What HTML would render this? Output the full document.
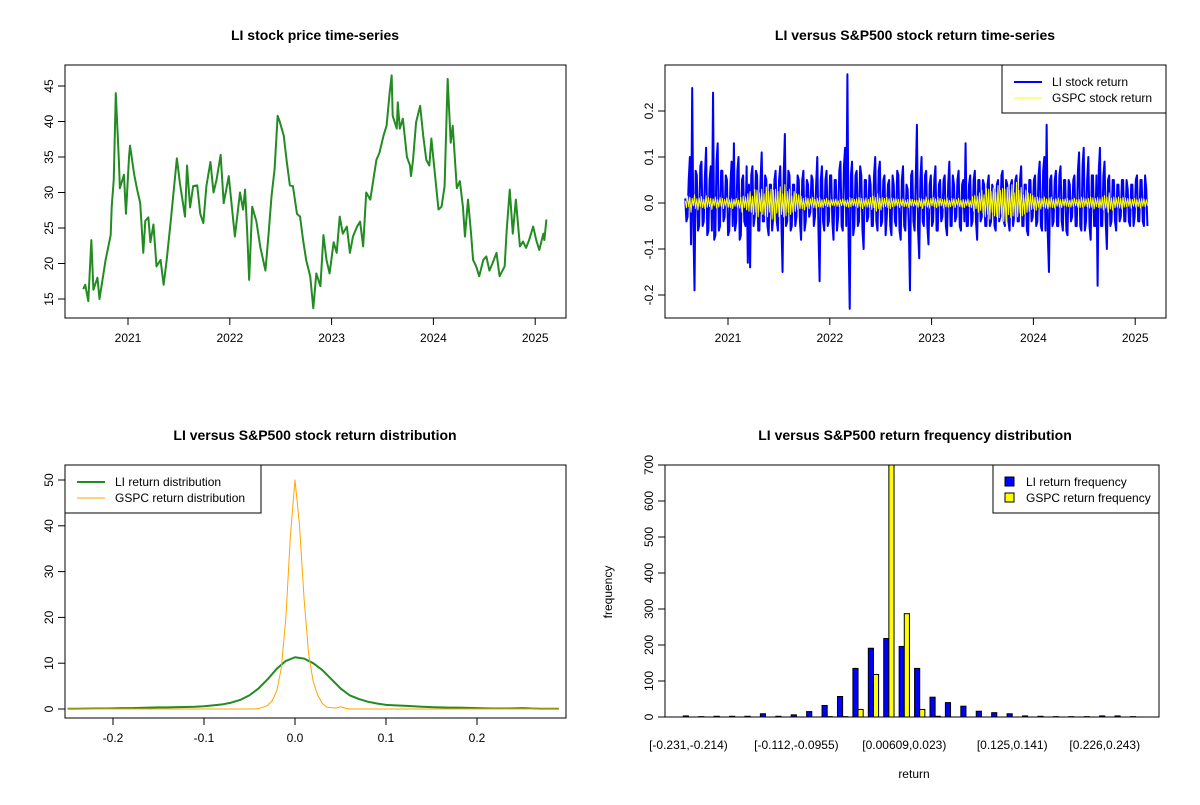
<!DOCTYPE html>
<html><head><meta charset="utf-8"><style>
body{margin:0;background:#fff}
svg text{font-family:"Liberation Sans",Arial,sans-serif;fill:#000}
.t{font-size:14px;font-weight:bold}
.k{font-size:12px}
</style></head><body>
<svg id="s" width="1200" height="800" xmlns="http://www.w3.org/2000/svg">
<rect width="1200" height="800" fill="#fff"/>
<text class="t" x="315" y="40" text-anchor="middle">LI stock price time-series</text>
<text class="t" x="915" y="40" text-anchor="middle">LI versus S&amp;P500 stock return time-series</text>
<text class="t" x="315" y="440" text-anchor="middle">LI versus S&amp;P500 stock return distribution</text>
<text class="t" x="915" y="440" text-anchor="middle">LI versus S&amp;P500 return frequency distribution</text>
<text class="k" x="612" y="592" text-anchor="middle" transform="rotate(-90 612 592)">frequency</text>
<text class="k" x="914" y="778" text-anchor="middle">return</text>
<g id="g"></g>
</svg>
<script>
const priceYears=[2020.56,2020.58,2020.61,2020.64,2020.66,2020.70,2020.72,2020.78,2020.83,2020.84,2020.86,2020.88,2020.91,2020.92,2020.96,2020.98,2021.01,2021.02,2021.06,2021.09,2021.12,2021.15,2021.17,2021.20,2021.22,2021.25,2021.28,2021.32,2021.35,2021.38,2021.42,2021.45,2021.48,2021.51,2021.56,2021.58,2021.61,2021.64,2021.68,2021.71,2021.74,2021.77,2021.81,2021.84,2021.87,2021.91,2021.94,2021.99,2022.02,2022.05,2022.10,2022.13,2022.15,2022.17,2022.19,2022.22,2022.26,2022.30,2022.35,2022.38,2022.41,2022.44,2022.47,2022.49,2022.53,2022.56,2022.59,2022.62,2022.66,2022.69,2022.72,2022.75,2022.79,2022.82,2022.85,2022.89,2022.92,2022.95,2022.98,2023.02,2023.05,2023.08,2023.11,2023.15,2023.18,2023.21,2023.25,2023.28,2023.31,2023.34,2023.38,2023.41,2023.44,2023.47,2023.51,2023.54,2023.57,2023.59,2023.60,2023.64,2023.65,2023.67,2023.70,2023.74,2023.77,2023.78,2023.80,2023.83,2023.87,2023.90,2023.93,2023.96,2023.98,2024.01,2024.05,2024.08,2024.11,2024.14,2024.17,2024.19,2024.23,2024.26,2024.29,2024.31,2024.34,2024.37,2024.39,2024.42,2024.45,2024.49,2024.52,2024.55,2024.58,2024.62,2024.65,2024.70,2024.72,2024.75,2024.78,2024.81,2024.85,2024.88,2024.91,2024.94,2024.98,2025.01,2025.04,2025.08,2025.09,2025.11];
const prices=[16.4,17.0,14.7,23.3,16.3,18.0,15.0,20.5,24.0,28.0,31.8,44.0,34.6,30.6,32.5,27.0,35.0,36.6,32.6,30.4,28.5,21.5,26.0,26.5,23.0,25.5,19.6,20.5,17.0,20.5,26.0,30.4,34.8,31.3,26.6,33.8,27.9,30.9,31.0,27.0,25.7,30.9,34.3,30.0,31.8,35.3,28.5,32.3,28.0,23.8,30.0,27.6,30.4,24.7,17.7,28.0,26.0,22.3,19.0,24.0,29.5,33.3,40.8,40.0,38.0,34.3,31.0,30.9,27.0,26.6,23.3,20.5,18.2,13.7,18.6,16.8,24.0,20.5,18.6,23.0,21.5,26.6,24.2,25.2,21.5,23.8,25.2,25.9,22.4,30.0,29.0,31.8,34.6,35.6,38.0,39.4,44.0,46.5,40.8,39.0,42.7,39.0,40.4,35.0,33.8,32.3,34.6,39.9,42.2,38.0,34.6,33.8,37.6,33.3,27.6,28.0,30.9,46.0,37.0,39.4,30.6,31.6,28.0,23.8,29.0,24.2,20.5,19.6,18.2,20.5,21.0,19.0,20.0,21.5,18.2,19.6,24.7,30.4,24.2,29.0,22.4,23.1,22.2,23.3,25.2,23.3,21.9,24.2,23.3,26.2];
const liReturns=[0.01,-0.04,-0.03,0.05,0.10,-0.09,0.25,-0.05,-0.19,0.07,0.06,-0.06,-0.05,0.08,0.09,-0.05,-0.04,0.06,0.12,-0.07,-0.06,0.05,0.08,-0.06,0.24,-0.08,-0.07,0.09,0.13,-0.06,-0.05,0.07,0.07,-0.04,-0.03,0.06,0.05,-0.07,-0.06,0.04,
0.09,-0.05,0.13,-0.06,-0.04,0.07,0.10,-0.08,-0.07,0.05,0.06,-0.04,-0.05,0.08,-0.13,0.04,-0.14,0.06,0.08,-0.05,-0.03,0.07,0.06,-0.06,-0.06,0.05,0.11,-0.04,-0.04,0.06,0.05,-0.05,-0.07,0.04,0.04,-0.06,-0.03,0.05,0.07,-0.04,
-0.06,0.05,0.08,-0.04,-0.15,0.06,0.15,-0.05,-0.04,0.07,0.06,-0.06,-0.05,0.04,0.04,-0.05,-0.03,0.06,0.05,-0.04,-0.08,0.05,0.07,-0.06,-0.04,0.05,0.04,-0.03,-0.02,0.06,0.05,-0.05,-0.03,0.04,0.10,-0.06,-0.17,0.05,0.08,-0.04,
-0.06,0.05,0.07,-0.05,-0.04,0.06,0.06,-0.04,-0.08,0.05,0.05,-0.06,-0.03,0.07,0.09,-0.05,-0.06,0.08,0.12,-0.05,0.28,-0.08,-0.23,0.06,0.09,-0.07,-0.05,0.06,0.07,-0.05,-0.04,0.08,0.06,-0.06,-0.10,0.05,0.05,-0.04,-0.03,0.06,
0.04,-0.05,-0.05,0.06,0.10,-0.04,-0.06,0.07,0.09,-0.05,-0.04,0.05,0.06,-0.07,-0.03,0.04,0.05,-0.05,-0.07,0.06,0.04,-0.04,-0.05,0.07,0.06,-0.06,-0.08,0.05,0.08,-0.05,-0.06,0.04,0.03,-0.05,-0.19,0.06,0.07,-0.04,-0.06,0.05,
0.17,-0.06,-0.12,0.05,0.10,-0.04,-0.05,0.06,0.07,-0.05,-0.09,0.04,0.06,-0.05,-0.04,0.05,0.08,-0.06,-0.06,0.04,0.05,-0.04,-0.03,0.05,0.06,-0.05,-0.07,0.04,0.09,-0.05,-0.05,0.06,0.04,-0.04,-0.03,0.05,0.07,-0.05,-0.06,0.04,
0.05,-0.04,0.13,-0.05,-0.05,0.04,0.06,-0.05,-0.04,0.05,0.07,-0.04,-0.08,0.05,0.05,-0.04,-0.03,0.05,0.04,-0.05,-0.05,0.04,0.06,-0.05,-0.04,0.04,0.03,-0.05,-0.06,0.04,0.05,-0.04,-0.03,0.06,0.07,-0.04,-0.05,0.05,0.04,-0.04,
-0.06,0.04,0.05,-0.05,-0.03,0.05,0.06,-0.04,-0.04,0.05,0.08,-0.05,-0.05,0.04,0.04,-0.06,-0.07,0.05,0.05,-0.04,-0.03,0.05,0.06,-0.05,-0.04,0.06,0.09,-0.05,-0.06,0.07,0.10,-0.06,0.17,-0.07,-0.15,0.05,0.06,-0.05,-0.04,0.05,
0.07,-0.05,-0.05,0.06,0.08,-0.04,-0.06,0.05,0.05,-0.06,-0.07,0.05,0.04,-0.04,-0.03,0.05,0.06,-0.05,-0.05,0.07,0.11,-0.05,-0.06,0.08,0.12,-0.06,-0.04,0.05,0.10,-0.05,-0.08,0.06,0.06,-0.05,-0.05,0.06,-0.18,0.07,0.12,-0.05,
-0.05,0.06,0.09,-0.04,-0.10,0.05,0.06,-0.05,-0.04,0.05,0.05,-0.04,-0.06,0.04,0.04,-0.04,-0.03,0.05,0.05,-0.04,-0.04,0.05,0.03,-0.04,-0.05,0.04,0.04,-0.05,-0.03,0.05,0.06,-0.04,-0.04,0.05,0.05,-0.04,-0.05,0.06,0.03,-0.05];
const gspcReturns=[0.005,-0.01,0.015,-0.008,0.012,-0.02,0.01,-0.006,0.018,-0.012,0.009,-0.015,0.011,-0.007,0.014,-0.01,0.008,-0.012,0.016,-0.009,
0.012,-0.008,0.01,-0.014,0.009,-0.006,0.013,-0.011,0.007,-0.009,0.012,-0.007,0.01,-0.012,0.008,-0.006,0.011,-0.009,0.007,-0.01,
0.009,-0.012,0.008,-0.007,0.01,-0.009,0.006,-0.011,0.012,-0.02,0.015,-0.01,0.013,-0.015,0.02,-0.018,0.025,-0.02,0.015,-0.025,
0.03,-0.02,0.028,-0.03,0.022,-0.018,0.03,-0.025,0.02,-0.028,0.035,-0.03,0.025,-0.02,0.03,-0.035,0.028,-0.04,0.03,-0.022,
0.025,-0.03,0.035,-0.025,0.02,-0.03,0.04,-0.028,0.025,-0.02,0.03,-0.025,0.015,-0.02,0.025,-0.018,0.02,-0.015,0.018,-0.012,
0.015,-0.012,0.01,-0.015,0.012,-0.008,0.01,-0.012,0.009,-0.007,0.012,-0.01,0.008,-0.011,0.01,-0.008,0.012,-0.009,0.007,-0.01,
0.008,-0.006,0.01,-0.008,0.006,-0.009,0.007,-0.005,0.008,-0.006,0.009,-0.007,0.005,-0.008,0.007,-0.006,0.009,-0.005,0.006,-0.008,
0.007,-0.009,0.012,-0.008,0.01,-0.006,0.008,-0.007,0.009,-0.01,0.012,-0.008,0.01,-0.012,0.009,-0.007,0.011,-0.009,0.008,-0.01,
0.012,-0.014,0.015,-0.01,0.012,-0.018,0.02,-0.012,0.01,-0.015,0.012,-0.009,0.01,-0.008,0.012,-0.01,0.009,-0.012,0.011,-0.008,
0.01,-0.007,0.009,-0.006,0.008,-0.01,0.007,-0.006,0.009,-0.008,0.006,-0.007,0.008,-0.01,0.009,-0.006,0.008,-0.007,0.006,-0.005,
0.006,-0.009,0.011,-0.007,0.009,-0.012,0.008,-0.006,0.013,-0.009,0.007,-0.011,0.01,-0.006,0.012,-0.008,0.009,-0.01,0.013,-0.007,
0.01,-0.006,0.008,-0.011,0.007,-0.008,0.011,-0.009,0.006,-0.008,0.01,-0.006,0.009,-0.01,0.007,-0.005,0.01,-0.008,0.006,-0.009,
0.008,-0.01,0.007,-0.006,0.009,-0.008,0.005,-0.01,0.014,-0.018,0.016,-0.012,0.015,-0.02,0.022,-0.016,0.028,-0.022,0.018,-0.03,
0.032,-0.025,0.03,-0.035,0.025,-0.02,0.033,-0.028,0.024,-0.03,0.038,-0.032,0.028,-0.024,0.032,-0.04,0.03,-0.045,0.034,-0.025,
0.028,-0.032,0.04,-0.028,0.022,-0.034,0.045,-0.03,0.028,-0.022,0.034,-0.028,0.018,-0.024,0.028,-0.02,0.022,-0.018,0.02,-0.014,
0.016,-0.013,0.012,-0.016,0.013,-0.009,0.011,-0.013,0.01,-0.008,0.013,-0.011,0.009,-0.012,0.011,-0.009,0.013,-0.01,0.008,-0.011,
0.009,-0.007,0.011,-0.009,0.007,-0.01,0.008,-0.006,0.009,-0.007,0.01,-0.008,0.006,-0.009,0.008,-0.007,0.01,-0.006,0.007,-0.009,
0.008,-0.01,0.013,-0.009,0.011,-0.007,0.009,-0.008,0.01,-0.011,0.013,-0.009,0.011,-0.013,0.01,-0.008,0.012,-0.01,0.009,-0.011,
0.013,-0.015,0.016,-0.011,0.013,-0.02,0.022,-0.013,0.011,-0.016,0.013,-0.01,0.011,-0.009,0.013,-0.011,0.01,-0.013,0.012,-0.009,
0.011,-0.008,0.01,-0.007,0.009,-0.011,0.008,-0.007,0.01,-0.009,0.007,-0.008,0.009,-0.011,0.01,-0.007,0.009,-0.008,0.007,-0.006];
const liDensX0=-0.25, liDensStep=0.01;
const liDensity=[0.05,0.05,0.08,0.1,0.12,0.15,0.2,0.2,0.25,0.3,0.35,0.35,0.4,0.45,0.5,0.6,0.8,1.0,1.4,2.0,3.0,4.5,6.5,8.8,10.5,11.3,11.0,10.0,8.5,6.5,4.5,3.0,2.2,1.6,1.2,0.9,0.8,0.7,0.6,0.5,0.4,0.35,0.3,0.3,0.25,0.2,0.15,0.1,0.1,0.15,0.2,0.1,0.05,0.05,0.05];
const gspcDensX=[-0.25,-0.045,-0.04,-0.035,-0.03,-0.025,-0.02,-0.015,-0.01,-0.005,0,0.005,0.01,0.015,0.02,0.025,0.03,0.035,0.04,0.045,0.05,0.055,0.06,0.29];
const gspcDensity=[0,0,0.1,0.4,0.8,1.8,4,9,20,38,50,40,24,12,6,3,1.2,0.4,0.3,0.2,0.5,0.2,0,0];
const binLabels=["[-0.231,-0.214)","[-0.112,-0.0955)","[0.00609,0.023)","[0.125,0.141)","[0.226,0.243)"];
const binLabelIdx=[0,7,14,21,27];
const liFreq=[3,1,2,2,2,9,2,6,15,32,57,135,191,218,196,135,55,40,30,16,12,9,3,2,1,1,1,3,3,1];
const gspcFreq=[0,0,0,0,0,0,0,0,0,1,1,21,118,720,287,21,2,0,0,0,0,0,0,0,0,0,0,0,0,0];
const priceTicks=[15,20,25,30,35,40,45];
const yearTicks=[2021,2022,2023,2024,2025];
const retTicks=[-0.2,-0.1,0,0.1,0.2];
const densXTicks=[-0.2,-0.1,0,0.1,0.2];
const densYTicks=[0,10,20,30,40,50];
const freqTicks=[0,100,200,300,400,500,600,700];

const NS="http://www.w3.org/2000/svg", G=document.getElementById('g');
function el(t,a,p){const e=document.createElementNS(NS,t);for(const k in a)e.setAttribute(k,a[k]);(p||G).appendChild(e);return e;}
function txt(s,a){const e=el('text',a);e.textContent=s;return e;}
function box(x0,y0,x1,y1,n){const r=el('rect',{x:x0,y:y0,width:x1-x0,height:y1-y0,fill:'none',stroke:'#000','stroke-width':1});

}
function xaxis(ticks,f,y,lab){const g=el('g',{});


el('line',{x1:f(ticks[0]),x2:f(ticks[ticks.length-1]),y1:y,y2:y,stroke:'#000'},g);
ticks.forEach(t=>{el('line',{x1:f(t),x2:f(t),y1:y,y2:y+7,stroke:'#000'},g);
const e=el('text',{x:f(t),y:y+24,'text-anchor':'middle',class:'k'},g);e.textContent=lab(t);

});}
function yaxis(ticks,f,x,lab){const g=el('g',{});


el('line',{x1:x,x2:x,y1:f(ticks[0]),y2:f(ticks[ticks.length-1]),stroke:'#000'},g);
ticks.forEach(t=>{el('line',{x1:x-7,x2:x,y1:f(t),y2:f(t),stroke:'#000'},g);
const e=el('text',{x:x-12,y:f(t),'text-anchor':'middle',class:'k',transform:`rotate(-90 ${x-12} ${f(t)})`},g);e.textContent=lab(t);

});}
function poly(xs,ys,fx,fy,col,w,n){const p=el('polyline',{points:xs.map((x,i)=>fx(x)+','+fy(ys[i])).join(' '),fill:'none',stroke:col,'stroke-width':w,'stroke-linejoin':'round'});

}

// Panel 1
const X1=y=>128+(y-2021)*101.8, Y1=p=>299-(p-15)*7.1;
box(65,65,566,318,'price-plot-frame');
xaxis(yearTicks,X1,318,t=>t);yaxis(priceTicks,Y1,65,t=>t);
poly(priceYears,prices,X1,Y1,'#228B22',2,'li-price-line');

// Panel 2
const X2=y=>728+(y-2021)*101.8, Y2=r=>203-r*460;
box(665,65,1166,318,'return-plot-frame');
xaxis(yearTicks,X2,318,t=>t);yaxis(retTicks,Y2,665,t=>t.toFixed(1));
const tli=liReturns.map((_,i)=>2020.58+i*(4.54/(liReturns.length-1)));
const tgs=gspcReturns.map((_,i)=>2020.58+i*(4.54/(gspcReturns.length-1)));
poly(tli,liReturns,X2,Y2,'#0000FF',2,'li-return-line');
poly(tgs,gspcReturns,X2,Y2,'#FFFF00',1,'gspc-return-line');

// Panel 3
const X3=v=>295+v*910, Y3=d=>709-d*4.58;
box(65,465,566,718,'density-plot-frame');
xaxis(densXTicks,X3,718,t=>t.toFixed(1));yaxis(densYTicks,Y3,65,t=>t);
const ldx=liDensity.map((_,i)=>liDensX0+i*liDensStep);
poly(ldx,liDensity,X3,Y3,'#228B22',2,'li-density-line');
poly(gspcDensX,gspcDensity,X3,Y3,'#FFA500',1,'gspc-density-line');

// Panel 4
const PX=494/(89*1.08), X4=u=>665+(u-(1-0.04*89))*PX, Y4=v=>717-Math.min(v,700)*(252/700);
box(665,465,1159,717,'histogram-plot-frame');
yaxis(freqTicks,Y4,665,t=>t);
liFreq.forEach((v,g)=>{const u=1+3*g;
const b=el('rect',{x:X4(u),y:Y4(v),width:PX,height:Math.max(Y4(0)-Y4(v),0.01),fill:'#0000FF',stroke:'#000','stroke-width':1});


const w=gspcFreq[g];
const c=el('rect',{x:X4(u+1),y:Y4(w),width:PX,height:Math.max(Y4(0)-Y4(w),0.01),fill:'#FFFF00',stroke:'#000','stroke-width':1});

});
binLabelIdx.forEach((g,i)=>{const t=txt(binLabels[i],{x:X4(2+3*g),y:749,'text-anchor':'middle',class:'k'});

});

// Legends
function legend(x0,y0,x1,y1,items,n){const g=el('g',{});


el('rect',{x:x0,y:y0,width:x1-x0,height:y1-y0,fill:'#fff',stroke:'#000'},g);
items.forEach((it,i)=>{const y=y0+17+i*16;
if(it.fill)el('rect',{x:x0+12,y:y-5,width:9,height:9,fill:it.col,stroke:'#000'},g);
else el('line',{x1:x0+12,x2:x0+40,y1:y,y2:y,stroke:it.col,'stroke-width':it.w},g);
const t=el('text',{x:x0+(it.fill?33:50),y:y+4,class:'k'},g);t.textContent=it.s;

});}
legend(1002,65,1166,113,[{s:'LI stock return',col:'#0000FF',w:2},{s:'GSPC stock return',col:'#FFFF00',w:1}],'return-legend');
legend(65,465,261,513,[{s:'LI return distribution',col:'#228B22',w:2},{s:'GSPC return distribution',col:'#FFA500',w:1}],'density-legend');
legend(993,465,1159,513,[{s:'LI return frequency',col:'#0000FF',fill:1},{s:'GSPC return frequency',col:'#FFFF00',fill:1}],'histogram-legend');
</script>
</body></html>
